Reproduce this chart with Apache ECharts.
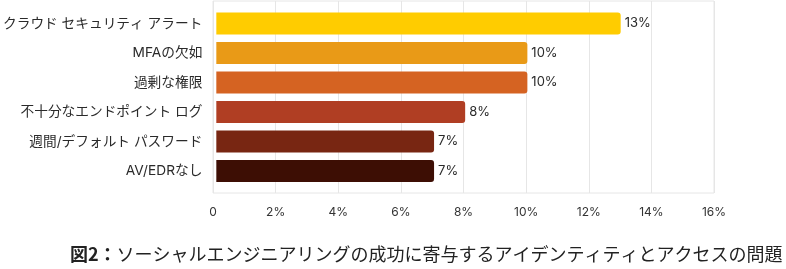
<!DOCTYPE html>
<html>
<head>
<meta charset="utf-8">
<script src="https://cdn.jsdelivr.net/npm/echarts@6/dist/echarts.min.js"></script>
<style>
html,body{margin:0;padding:0;background:#fff;}
#chart{width:786px;height:269px;}
</style>
</head>
<body>
<div id="chart"></div>
<script>
const categories = ["クラウド セキュリティ アラート", "MFAの欠如", "過剰な権限", "不十分なエンドポイント ログ", "週間/デフォルト パスワード", "AV/EDRなし"];
const values = [13, 10, 10, 8, 7, 7];
const barColors = ["#FFCC00", "#E99A17", "#D56322", "#B03E23", "#782612", "#3D0E04"];
const xTicks = [0, 2, 4, 6, 8, 10, 12, 14, 16];
const titleBold = "図2：";
const titleText = "ソーシャルエンジニアリングの成功に寄与するアイデンティティとアクセスの問題";

const FONT = "Inter, 'Noto Sans CJK JP', sans-serif";
const chart = echarts.init(document.getElementById('chart'));
const gridColor = '#e6e6e6';

chart.setOption({
  animation: false,
  title: {
    text: '{b|' + titleBold + '}{n|' + titleText + '}',
    left: 65,
    top: 240,
    textStyle: {
      rich: {
        b: { fontFamily: "'Noto Sans CJK JP', sans-serif", fontWeight: 'bold', fontSize: 18, color: '#222' },
        n: { fontFamily: "'Noto Sans CJK JP', sans-serif", fontWeight: 'normal', fontSize: 18, color: '#222' }
      }
    }
  },
  grid: [
    { left: 213, width: 501, top: 1, height: 192, show: true, borderColor: gridColor, borderWidth: 1, containLabel: false },
    { left: 213, width: 501, top: 8.75, height: 177, containLabel: false }
  ],
  xAxis: [
    {
      gridIndex: 0, type: 'value', min: xTicks[0], max: xTicks[xTicks.length - 1], interval: 2,
      axisLine: { show: false }, axisTick: { show: false },
      splitLine: { show: true, lineStyle: { color: gridColor, width: 1 } },
      axisLabel: {
        margin: 13, fontSize: 12, color: '#333', fontFamily: FONT,
        formatter: v => v === 0 ? '0' : v + '%'
      }
    },
    { gridIndex: 1, type: 'value', min: xTicks[0], max: xTicks[xTicks.length - 1], show: false }
  ],
  yAxis: [
    { gridIndex: 0, type: 'value', show: false },
    {
      gridIndex: 1, type: 'category', data: categories, inverse: true,
      axisLine: { show: false }, axisTick: { show: false },
      axisLabel: { margin: 14, fontSize: 13.7, color: '#2a2a2a', fontFamily: FONT }
    }
  ],
  series: [{
    type: 'bar',
    xAxisIndex: 1, yAxisIndex: 1,
    barWidth: 22,
    data: values.map((v, i) => ({ value: v, itemStyle: { color: barColors[i] } })),
    itemStyle: { borderRadius: [0, 3, 3, 0] },
    label: {
      show: true, position: 'right', distance: 4,
      fontSize: 13, color: '#2a2a2a', fontFamily: FONT,
      formatter: p => p.value + '%'
    }
  }]
});
</script>
</body>
</html>
